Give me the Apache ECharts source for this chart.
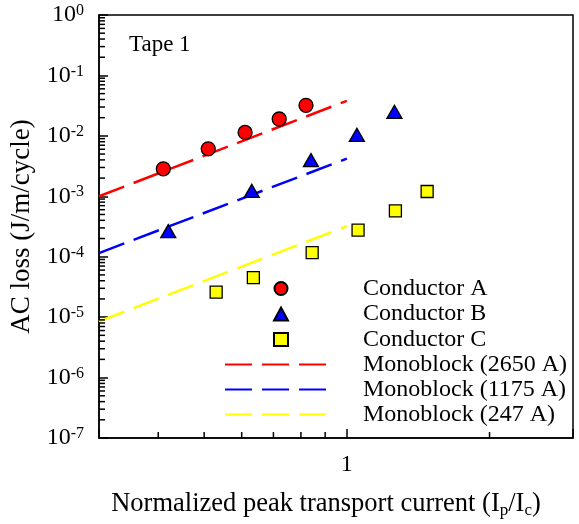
<!DOCTYPE html>
<html>
<head>
<meta charset="utf-8">
<script src="https://cdn.jsdelivr.net/npm/echarts@6/dist/echarts.min.js"></script>
<style>
  html, body { margin: 0; padding: 0; background: #fff; }
  #chart { width: 579px; height: 524px; }
</style>
</head>
<body>
<div id="chart"></div>
<script>
// measured data (x = Ip/Ic, y = AC loss J/m/cycle)
const conductorA = [[0.41, 2.85e-3], [0.51, 6.1e-3], [0.61, 1.14e-2], [0.72, 1.9e-2], [0.82, 3.2e-2]];
const conductorB = [[0.42, 2.65e-4], [0.63, 1.23e-3], [0.84, 3.97e-3], [1.05, 1.04e-2], [1.26, 2.5e-2]];
const conductorC = [[0.53, 2.6e-5], [0.635, 4.5e-5], [0.845, 1.17e-4], [1.056, 2.76e-4], [1.266, 5.75e-4], [1.477, 1.2e-3]];
// monoblock model lines (end points)
const mono2650 = [[0.3, 1.0e-3], [1.0, 3.8e-2]];
const mono1175 = [[0.3, 1.15e-4], [1.0, 4.2e-3]];
const mono247 = [[0.3, 8.5e-6], [1.0, 3.2e-4]];

// axis ticks
const xMin = 0.3, xMax = 3;
const yMin = 1e-7, yMax = 1;
const xMinorTicks = [0.4, 0.5, 0.6, 0.7, 0.8, 0.9, 2];
const yDecades = [1e-7, 1e-6, 1e-5, 1e-4, 1e-3, 1e-2, 1e-1];
const minorMantissa = [2, 3, 4, 5, 6, 7, 8, 9];
const yMinorTicks = [];
yDecades.forEach(d => minorMantissa.forEach(m => yMinorTicks.push(m * d)));

const font = 'Liberation Serif, Times New Roman, serif';
const minorLen = 6;

const chart = echarts.init(document.getElementById('chart'));

function minorTickSeries(data, vertical) {
  return {
    type: 'custom',
    silent: true,
    z: 5,
    data: data,
    renderItem: function (params, api) {
      const p = api.coord([api.value(0), api.value(1)]);
      const shape = vertical
        ? { x1: p[0], y1: p[1], x2: p[0], y2: p[1] - minorLen }
        : { x1: p[0], y1: p[1], x2: p[0] + minorLen, y2: p[1] };
      return { type: 'line', shape: shape, style: { stroke: '#000', lineWidth: 1.5 } };
    }
  };
}

const legendText = { fontFamily: font, fontSize: 24, color: '#000', lineHeight: 25 };

const option = {
  animation: false,
  title: {
    text: 'Tape 1',
    left: 124,
    top: 28,
    textStyle: { fontFamily: font, fontSize: 23, fontWeight: 'normal', color: '#000' }
  },
  grid: {
    left: 99, right: 6, top: 15, bottom: 86,
    show: true, borderColor: '#000', borderWidth: 1.5
  },
  legend: [
    {
      orient: 'vertical',
      left: 268,
      top: 271,
      itemWidth: 14,
      itemHeight: 13,
      itemGap: 0.5,
      textStyle: Object.assign({ padding: [0, 0, 0, 70] }, legendText),
      data: ['Conductor A', 'Conductor B', 'Conductor C']
    },
    {
      orient: 'vertical',
      left: 219,
      top: 347,
      itemWidth: 101,
      itemHeight: 14,
      itemGap: 0,
      itemStyle: { opacity: 0 },
      textStyle: Object.assign({ padding: [0, 0, 0, 32] }, legendText),
      data: ['Monoblock (2650 A)', 'Monoblock (1175 A)', 'Monoblock (247 A)']
    }
  ],
  xAxis: {
    type: 'log',
    logBase: 10,
    min: xMin,
    max: xMax,
    name: 'Normalized peak transport current (I{s|p}/I{s|c})',
    nameLocation: 'middle',
    nameGap: 51,
    nameTextStyle: {
      fontFamily: font, fontSize: 26.5, color: '#000', lineHeight: 30,
      padding: [0, 20, 0, 0],
      rich: { s: { fontFamily: font, fontSize: 17, lineHeight: 12, verticalAlign: 'bottom' } }
    },
    axisLine: { lineStyle: { color: '#000', width: 1.5 } },
    axisTick: { inside: true, length: 9, lineStyle: { color: '#000', width: 1.5 } },
    splitLine: { show: false },
    axisLabel: {
      margin: 15,
      fontFamily: font, fontSize: 24, color: '#000',
      formatter: v => (Math.abs(v - 1) < 1e-9 ? '1' : '')
    }
  },
  yAxis: {
    type: 'log',
    logBase: 10,
    min: yMin,
    max: yMax,
    interval: 1,
    name: 'AC loss (J/m/cycle)',
    nameLocation: 'middle',
    nameGap: 51,
    nameTextStyle: { fontFamily: font, fontSize: 27, color: '#000' },
    axisLine: { lineStyle: { color: '#000', width: 1.5 } },
    axisTick: { inside: true, length: 9, lineStyle: { color: '#000', width: 1.5 } },
    splitLine: { show: false },
    axisLabel: {
      margin: 15,
      formatter: v => '{b|10}{s|' + Math.round(Math.log10(v)) + '}',
      rich: {
        b: { fontFamily: font, fontSize: 24, color: '#000', lineHeight: 24 },
        s: { fontFamily: font, fontSize: 16, color: '#000', lineHeight: 16, verticalAlign: 'top' }
      }
    }
  },
  series: [
    {
      name: 'Conductor A', type: 'scatter', data: conductorA,
      symbol: 'circle', symbolSize: 14, z: 10,
      itemStyle: { color: '#ff0000', borderColor: '#000', borderWidth: 1.3, opacity: 1 }
    },
    {
      name: 'Conductor B', type: 'scatter', data: conductorB,
      symbol: 'triangle', symbolSize: [15, 13], z: 10,
      itemStyle: { color: '#0000ff', borderColor: '#000', borderWidth: 1.3, opacity: 1 }
    },
    {
      name: 'Conductor C', type: 'scatter', data: conductorC,
      symbol: 'rect', symbolSize: 12, z: 10,
      itemStyle: { color: '#ffff00', borderColor: '#000', borderWidth: 1.3, opacity: 1 }
    },
    {
      name: 'Monoblock (2650 A)', type: 'line', data: mono2650,
      symbol: 'none', z: 4, color: '#ff0000',
      lineStyle: { color: '#ff0000', width: 2.5, type: [27, 10] }
    },
    {
      name: 'Monoblock (1175 A)', type: 'line', data: mono1175,
      symbol: 'none', z: 4, color: '#0000ff',
      lineStyle: { color: '#0000ff', width: 2.5, type: [27, 10] }
    },
    {
      name: 'Monoblock (247 A)', type: 'line', data: mono247,
      symbol: 'none', z: 4, color: '#ffff00',
      lineStyle: { color: '#ffff00', width: 2.5, type: [27, 10] }
    },
    minorTickSeries(yMinorTicks.map(v => [xMin, v]), false),
    minorTickSeries(xMinorTicks.map(v => [v, yMin]), true)
  ]
};

chart.setOption(option);
</script>
</body>
</html>
